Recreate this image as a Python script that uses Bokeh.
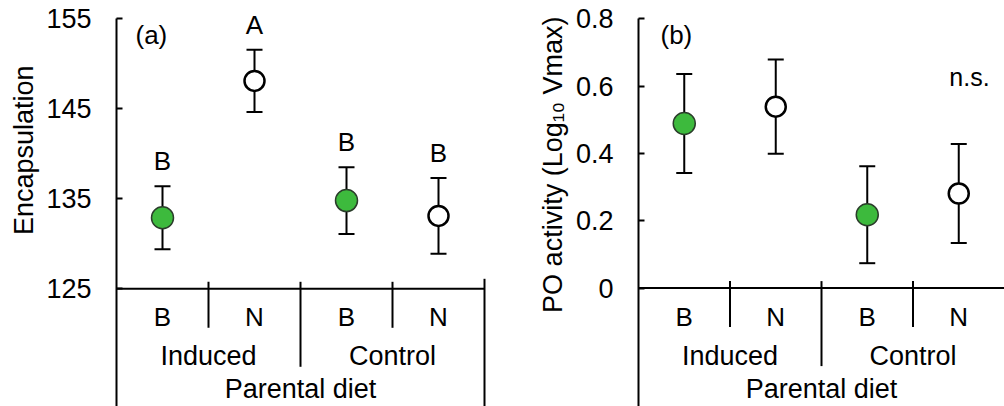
import math
from bokeh.plotting import figure
from bokeh.models import (Range1d, FixedTicker, ColumnDataSource, Whisker, TeeHead,
                          Title, CustomJSTickFormatter)
from bokeh.layouts import row
from bokeh.embed import file_html
from bokeh.resources import INLINE
from bokeh.core.properties import value

# ---------------- data ----------------
offspring_diet = ["B", "N", "B", "N"]
parental_diet = ["Induced", "Control"]
parental_title = "Parental diet"

enc_mean = [132.9, 148.1, 134.8, 133.1]
enc_se = [3.5, 3.45, 3.7, 4.2]
enc_letters = ["B", "A", "B", "B"]
enc_ticks = [125, 135, 145, 155]

po_mean = [0.489, 0.539, 0.218, 0.281]
po_se = [0.147, 0.140, 0.144, 0.147]
po_ticks = [0, 0.2, 0.4, 0.6, 0.8]
po_note = "n.s."

FONT = "Liberation Sans"
GREEN = "#3dba3d"
H = 406


def make_panel(width, border_left, px_per_x, ticks, px_top, px_base, means, ses,
               ylabel, ylabel_offset, panel_tag, tag_left_px, right_border, formatter=None):
    v_top, v_base = ticks[-1], ticks[0]
    scale = (px_base - px_top) / (v_top - v_base)      # pixels per data unit

    def yv(px):                                       # pixel row -> data value
        return v_base - (px - px_base) / scale

    def xv(px):                                       # pixel column (panel) -> data x
        return (px - border_left) / px_per_x

    n = len(offspring_diet)
    frame_w = width - border_left
    p = figure(width=width, height=H, output_backend="svg", toolbar_location=None,
               x_range=Range1d(0, frame_w / px_per_x), y_range=Range1d(yv(H), yv(0)),
               x_axis_location=None, min_border_left=border_left, min_border_right=0,
               min_border_top=0, min_border_bottom=0)
    p.grid.visible = False
    p.outline_line_color = None
    p.background_fill_color = "white"
    p.border_fill_color = "white"

    ax = p.yaxis[0]
    ax.ticker = FixedTicker(ticks=ticks)
    ax.bounds = (yv(H), v_top)
    ax.axis_line_width = 2
    ax.axis_line_color = "black"
    ax.major_tick_line_width = 2
    ax.major_tick_in = 6
    ax.major_tick_out = 0
    ax.minor_tick_line_color = None
    ax.major_label_standoff = 25
    ax.major_label_text_font = FONT
    ax.major_label_text_font_size = "27px"
    ax.major_label_text_color = "black"
    if formatter is not None:
        ax.formatter = formatter

    p.add_layout(Title(text=ylabel, align="right", offset=ylabel_offset, standoff=10,
                       text_font=FONT, text_font_size="27px", text_font_style="normal",
                       text_color="black"), "left")

    xs = [i + 0.5 for i in range(n)]
    upper = [m + s for m, s in zip(means, ses)]
    lower = [m - s for m, s in zip(means, ses)]
    src = ColumnDataSource(dict(x=xs, y=means, upper=upper, lower=lower,
                                fill=[GREEN if d == "B" else "white" for d in offspring_diet],
                                line=["#2b3d2b" if d == "B" else "black" for d in offspring_diet],
                                lw=[1.5 if d == "B" else 2.5 for d in offspring_diet],
                                size=[22 if d == "B" else 20 for d in offspring_diet]))
    w = Whisker(base="x", upper="upper", lower="lower", source=src, dimension="height",
                line_width=2, line_color="black", level="underlay",
                upper_head=TeeHead(size=16, line_width=2, line_color="black"),
                lower_head=TeeHead(size=16, line_width=2, line_color="black"))
    p.add_layout(w)
    p.scatter("x", "y", source=src, size="size", fill_color="fill", line_color="line",
              line_width="lw")

    # table-like category axis
    seg_x0, seg_y0, seg_x1, seg_y1 = [0], [v_base], [n], [v_base]
    for k in range(1, n):
        long_ = (k == n // 2)
        seg_x0.append(k); seg_x1.append(k)
        seg_y0.append(yv(px_base - 7))
        seg_y1.append(yv(px_base + (78 if long_ else 39)))
    if right_border:
        seg_x0.append(n); seg_x1.append(n)
        seg_y0.append(yv(px_base - 10)); seg_y1.append(yv(H))
    p.segment(seg_x0, seg_y0, seg_x1, seg_y1, line_color="black", line_width=2)

    p.text(xs, [yv(316)] * n, text=offspring_diet, text_align="center",
           text_baseline="middle", text_font=value(FONT), text_font_size="26px",
           text_color="black")
    gx = [n / len(parental_diet) * (i + 0.5) for i in range(len(parental_diet))]
    p.text(gx, [yv(355)] * len(gx), text=parental_diet, text_align="center",
           text_baseline="middle", text_font=value(FONT), text_font_size="27px",
           text_color="black")
    p.text([n / 2], [yv(388)], text=[parental_title], text_align="center",
           text_baseline="middle", text_font=value(FONT), text_font_size="27px",
           text_color="black")
    p.text([xv(tag_left_px)], [yv(34)], text=[panel_tag], text_align="left",
           text_baseline="middle", text_font=value(FONT), text_font_size="26px",
           text_color="black")
    return p, xv, yv, scale, xs, upper


pa, xva, yva, sca, xs_a, up_a = make_panel(
    502, 116, 92.0, enc_ticks, 18.3, 288.3, enc_mean, enc_se,
    "Encapsulation", 65, "(a)", 135, True)
pa.text(xs_a, [u + 25 / sca for u in up_a], text=enc_letters, text_align="center",
        text_baseline="middle", text_font=value(FONT), text_font_size="26px",
        text_color="black")

po_fmt = CustomJSTickFormatter(code="return tick == 0 ? '0' : tick.toFixed(1);")
pb, xvb, yvb, scb, xs_b, up_b = make_panel(
    502, 136, 91.5, po_ticks, 18.3, 287.6, po_mean, po_se,
    "PO activity (Log\u2081\u2080 Vmax)", 16, "(b)", 660 - 502, False, po_fmt)
pb.text([xvb(969 - 502)], [yvb(76)], text=[po_note], text_align="center",
        text_baseline="middle", text_font=value(FONT), text_font_size="25px",
        text_color="black")

layout = row(pa, pb)
open("out.html", "w").write(file_html(layout, INLINE))
